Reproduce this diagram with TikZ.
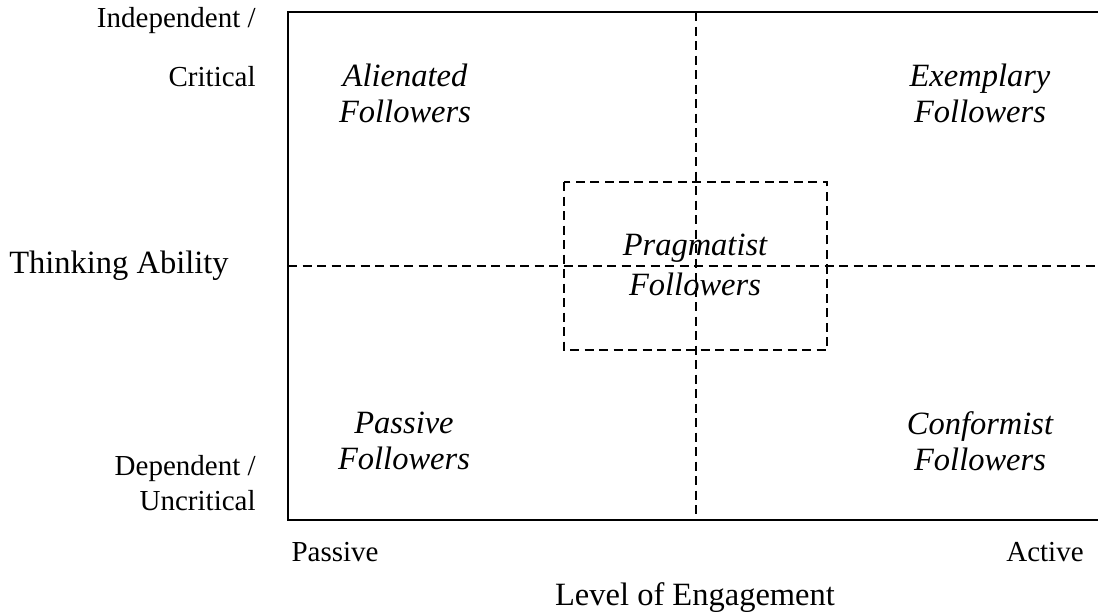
\documentclass[tikz,border=0pt]{standalone}
\usepackage{fontspec}
\setmainfont{Liberation Serif}
\tikzset{
  quad/.style={font=\fontsize{13}{14.4}\selectfont\itshape, inner sep=0.75pt, align=center},
  axislbl/.style={font=\fontsize{13}{15.5}\selectfont, inner sep=0.75pt},
  endlbl/.style={font=\fontsize{11.6}{14}\selectfont, inner sep=0.75pt},
  divider/.style={dashed, line width=0.5pt, dash pattern=on 3.6pt off 2.2pt}
}
\begin{document}
\begin{tikzpicture}[x=0.4pt,y=0.4pt,yscale=-1,xscale=1]
\useasboundingbox (0,0) rectangle (1098,614);
% frame
\coordinate (tl) at (288,12);
\coordinate (bl) at (288,520);
\coordinate (tr) at (1100,12);
\coordinate (br) at (1100,520);
\draw [line width=0.8pt] (tr) -- (tl) -- (bl) -- (br);
% dividers
\coordinate (vtop) at (696,12);
\coordinate (vbot) at (696,520);
\coordinate (hleft) at (288,266);
\coordinate (hright) at (1098,266);
\draw [divider] (vtop) -- (vbot);
\draw [divider] (hleft) -- (hright);
% middle box
\draw [divider] (564,182) rectangle (827,350);

% Text Node
\node [quad] (alien) at (405,93) {Alienated\\Followers};
% Text Node
\node [quad] (exemp) at (980,93) {Exemplary\\Followers};
% Text Node
\node [quad] (prag) at (695,265) {Pragmatist\\[1.6pt]Followers};
% Text Node
\node [quad] (passf) at (404,441) {Passive\\Followers};
% Text Node
\node [quad] (conf) at (980,441) {Conformist\\Followers};

% Text Node
\node [axislbl] (think) at (119,266) {Thinking Ability};
% Text Node
\node [axislbl] (engage) at (695,598) {Level of Engagement};
% Text Node
\node [endlbl, anchor=east] (indep) at (258,21) {Independent /};
\node [endlbl, anchor=east] (crit) at (258,77) {Critical};
% Text Node
\node [endlbl, anchor=east] (dep) at (258,469) {Dependent /};
\node [endlbl, anchor=east] (uncrit) at (258,501) {Uncritical};
% Text Node
\node [endlbl] (passive) at (335,552) {Passive};
\node [endlbl] (active) at (1045,552) {Active};
\end{tikzpicture}
\end{document}
